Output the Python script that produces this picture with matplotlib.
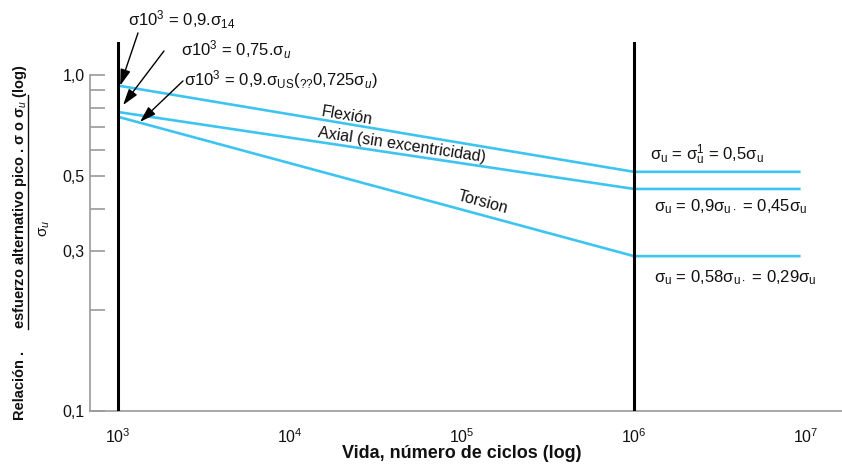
import matplotlib
matplotlib.use("Agg")
import matplotlib.pyplot as plt
from matplotlib.lines import Line2D
from matplotlib.ticker import FixedFormatter, FixedLocator, NullLocator

plt.rcParams.update({
    "font.family": ["Liberation Sans", "DejaVu Sans"],
    "mathtext.fontset": "custom",
    "mathtext.rm": "Liberation Sans",
    "mathtext.it": "Liberation Sans:italic",
    "mathtext.bf": "Liberation Sans:bold",
})

# life (cycles) at start, knee and end of each curve
cycles = [1e3, 1e6, 9.3e6]
flexion = [0.93, 0.515, 0.515]
axial = [0.776, 0.458, 0.458]
torsion = [0.751, 0.289, 0.289]
knee_cycles = [1e3, 1e6]

series_names = ["Flexión", "Axial (sin excentricidad)", "Torsion"]

y_ticks = [0.1, 0.2, 0.3, 0.4, 0.5, 0.6, 0.7, 0.8, 0.9, 1.0]
y_tick_labels = ["0,1", "", "0,3", "", "0,5", "", "", "", "", "1,0"]
x_ticks = [1e3, 1e4, 1e5, 1e6, 1e7]
x_tick_labels = ["10$^{3}$", "10$^{4}$", "10$^{5}$", "10$^{6}$", "10$^{7}$"]

CYAN = "#3ec4f0"
GREY = "#9a9a9a"
INK = "#111111"
W, H = 842, 465
FS = 12

fig = plt.figure(figsize=(W / 100, H / 100), dpi=100)
ax = fig.add_axes([90 / W, 1 - 411 / H, (W - 90) / W, (411 - 42) / H])
ax.set_xscale("log")
ax.set_yscale("log")
ax.set_xlim(10 ** (3 - 28 / 172), 10 ** (3 + 724 / 172))
ax.set_ylim(0.1, 10 ** (33 / 336))

for k in knee_cycles:
    ax.axvline(k, color="black", lw=2.2, zorder=3)

for vals in (flexion, axial, torsion):
    ax.plot(cycles, vals, color=CYAN, lw=1.9, solid_capstyle="butt", zorder=2)

for side in ("top", "right"):
    ax.spines[side].set_visible(False)
for side in ("left", "bottom"):
    ax.spines[side].set_color(GREY)
    ax.spines[side].set_linewidth(1.2)
ax.spines["left"].set_bounds(0.1, 1.0)

ax.yaxis.set_major_locator(FixedLocator(y_ticks))
ax.yaxis.set_major_formatter(FixedFormatter(y_tick_labels))
ax.yaxis.set_minor_locator(NullLocator())
ax.tick_params(axis="y", direction="in", length=11, width=1.2, color=GREY,
               labelsize=11.5, labelcolor=INK, pad=4)

ax.xaxis.set_major_locator(FixedLocator(x_ticks))
ax.xaxis.set_major_formatter(FixedFormatter(x_tick_labels))
ax.xaxis.set_minor_locator(NullLocator())
ax.tick_params(axis="x", length=0, labelsize=11.5, labelcolor=INK, pad=12)

ax.set_xlabel("Vida, número de ciclos (log)", fontweight="bold", fontsize=13,
              color=INK)
ax.xaxis.set_label_coords(0.4947, -0.092)

# curve names along the lines
ax.text(2.14e4, 0.755, series_names[0], rotation=-9.5, ha="center", va="center",
        fontsize=11.5, color=INK)
ax.text(4.48e4, 0.619, series_names[1], rotation=-8.5, ha="center", va="center",
        fontsize=11.5, color=INK)
ax.text(1.325e5, 0.419, series_names[2], rotation=-15, ha="center", va="center",
        fontsize=11.5, color=INK)

# notes at 10^3 cycles
arrow = dict(arrowstyle="-|>,head_length=0.7,head_width=0.22", color="black", lw=1,
             mutation_scale=14, shrinkA=0, shrinkB=0)
ax.annotate("", xy=(1.03e3, flexion[0]), xytext=(1.307e3, 1.334),
            arrowprops=arrow, annotation_clip=False)
ax.annotate("", xy=(1.07e3, 0.814), xytext=(1.851e3, 1.179),
            arrowprops=arrow, annotation_clip=False)
ax.annotate("", xy=(1.342e3, 0.725), xytext=(2.387e3, 0.96),
            arrowprops=arrow, annotation_clip=False)

ax.text(1.143e3, 1.458, "σ10$^{3}$ = 0,9.σ$_{\\mathrm{14}}$", ha="left", va="center",
        fontsize=FS, color=INK)
ax.text(2.323e3, 1.187, "σ10$^{3}$ = 0,75.σ$_{u}$", ha="left", va="center",
        fontsize=FS, color=INK)
ax.text(2.42e3, 0.966,
        "σ10$^{3}$ = 0,9.σ$_{\\mathrm{US}}$($_{\\mathrm{??}}$0,725σ$_{u}$)",
        ha="left", va="center", fontsize=FS, color=INK)

# notes at the endurance limit
ax.text(1.239e6, 0.578, "σ$_{\\mathrm{u}}$ = σ$_{\\mathrm{u}}^{1}$ = 0,5σ$_{\\mathrm{u}}$",
        ha="left", va="center", fontsize=FS, color=INK)
ax.text(1.307e6, 0.405, "σ$_{\\mathrm{u}}$ = 0,9σ$_{\\mathrm{u}\\cdot}$ = 0,45σ$_{\\mathrm{u}}$",
        ha="left", va="center", fontsize=FS, color=INK)
ax.text(1.307e6, 0.250, "σ$_{\\mathrm{u}}$ = 0,58σ$_{\\mathrm{u}\\cdot}$ = 0,29σ$_{\\mathrm{u}}$",
        ha="left", va="center", fontsize=FS, color=INK)

# y label written as a fraction
fig.text(20 / W, 1 - 385 / H, "Relación .", rotation=90, ha="center", va="center",
         fontsize=10.5, fontweight="bold", color=INK)
fig.text(20 / W, 1 - 329 / H, "esfuerzo alternativo pico . σ o σ$_{u}$ (log)",
         rotation=90, ha="center", va="bottom", fontsize=10.5, fontweight="bold", color=INK)
fig.add_artist(Line2D([28 / W, 28 / W], [1 - 95 / H, 1 - 329 / H],
                      transform=fig.transFigure, color=INK, lw=1))
fig.text(45 / W, 1 - 228 / H, "σ$_{u}$", rotation=90, ha="center", va="center",
         fontsize=11, color=INK)

fig.savefig("out.png", dpi=100)
